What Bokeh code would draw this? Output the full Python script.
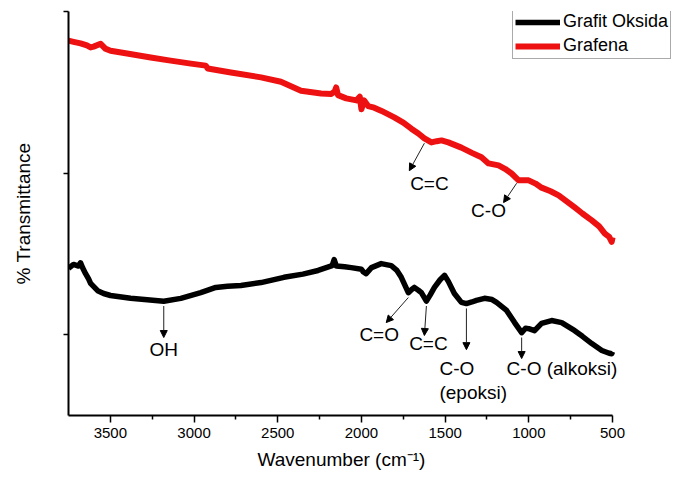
from bokeh.plotting import figure
from bokeh.models import (Range1d, FixedTicker, Legend, LegendItem, Arrow,
                          NormalHead, Label, Title)
from bokeh.embed import file_html
from bokeh.resources import INLINE
import numpy as np

# ---- data (arbitrary transmittance units) ----
grafena_wn = [3750, 3720, 3678, 3640, 3618, 3600, 3558, 3530, 3499, 3400, 3259,
              3150, 3019, 2930, 2918, 2780, 2600, 2481, 2361, 2241, 2180,
              2160, 2151, 2140, 2091, 2030, 2010, 2000, 1985, 1960, 1924,
              1880, 1804, 1750, 1702, 1660, 1624, 1582, 1550, 1522, 1481,
              1403, 1340, 1283, 1241, 1181, 1140, 1103, 1061, 1001, 960,
              924, 870, 822, 770, 726, 680, 624, 580, 546, 520, 505, 500]
grafena_t = [92.8, 92.5, 92.1, 91.6, 91.1, 91.3, 92.0, 90.8, 90.3, 89.6, 88.6,
             87.9, 87.1, 86.6, 85.9, 84.9, 83.7, 82.6, 80.4, 79.7, 79.6,
             80.2, 81.2, 79.3, 78.5, 78.0, 78.9, 75.8, 78.0, 76.6, 76.2,
             75.4, 73.8, 72.5, 71.0, 69.8, 68.6, 67.6, 67.9, 68.1, 67.6,
             66.3, 65.0, 63.9, 62.4, 61.9, 61.0, 59.9, 58.2, 58.2, 57.4,
             56.4, 55.5, 54.5, 52.9, 51.5, 50.0, 48.3, 46.8, 45.0, 44.2, 43.0, 44.1]

grafit_wn = [3750, 3720, 3690, 3678, 3665, 3648, 3630, 3618, 3576, 3540, 3499,
             3379, 3181, 3079, 2960, 2870, 2800, 2720, 2600, 2463, 2350,
             2259, 2175, 2163, 2150, 2100, 2061, 2000, 1990, 1972, 1940,
             1882, 1822, 1790, 1762, 1720, 1700, 1684, 1660, 1642, 1612,
             1590, 1564, 1530, 1504, 1481, 1445, 1403, 1373, 1340, 1313,
             1265, 1220, 1193, 1133, 1085, 1043, 1020, 1001, 966, 924,
             864, 804, 726, 680, 624, 564, 520, 505, 500]
grafit_t = [36.4, 37.4, 37.0, 37.8, 36.5, 35.1, 33.8, 32.7, 30.9, 30.2, 29.7,
            29.0, 28.3, 29.0, 30.4, 31.7, 32.0, 32.2, 32.9, 34.2, 35.0,
            35.9, 37.1, 38.6, 37.0, 36.8, 36.6, 36.2, 35.6, 35.1, 36.6,
            37.6, 37.1, 36.0, 34.2, 30.4, 31.2, 31.7, 31.0, 30.4, 28.3,
            29.8, 31.7, 33.6, 34.7, 33.2, 30.2, 28.0, 27.7, 28.1, 28.5,
            29.0, 28.7, 28.0, 26.0, 23.0, 20.5, 21.6, 21.5, 21.0, 22.8,
            23.5, 23.0, 21.0, 19.6, 17.8, 16.1, 15.4, 15.3, 15.8]

x_ticks = [3500, 3000, 2500, 2000, 1500, 1000, 500]
x_minor = [3250, 2750, 2250, 1750, 1250, 750]
y_ticks_minor = [20, 60, 100]

# annotations: (text, peak wavenumber, series, arrow end (wn, t), label (wn, t), align)
annotations = [
    ("OH", 3181, "go", (3181, 19.3), (3181, 16.3), "center"),
    ("C=O", 1720, "go", (1852, 23.0), (1894, 20.0), "center"),
    ("C=C", 1612, "go", (1624, 19.8), (1600, 17.8), "center"),
    ("C-O", 1373, "go", (1373, 16.3), (1534, 11.6), "left"),
    ("(epoksi)", None, None, None, (1534, 5.7), "left"),
    ("C-O (alkoksi)", 1043, "go", (1043, 14.1), (1133, 11.6), "left"),
    ("C=C", 1624, "gr", (1714, 60.6), (1594, 57.4), "center"),
    ("C-O", 1073, "gr", (1151, 52.7), (1241, 50.7), "center"),
]

FONT = "Liberation Sans"

p = figure(width=678, height=480, output_backend="svg", toolbar_location=None,
           x_range=Range1d(3750, 112), y_range=Range1d(0, 100),
           min_border_left=68, min_border_right=1, min_border_top=11,
           min_border_bottom=65)
p.outline_line_color = None
p.xgrid.visible = False
p.ygrid.visible = False
p.background_fill_color = "white"
p.border_fill_color = "white"

r_go = p.line(grafit_wn, grafit_t, line_color="black", line_width=5.5,
              line_join="round")
r_gr = p.line(grafena_wn, grafena_t, line_color="#ee1111", line_width=6,
              line_join="round")

# axes
xa = p.xaxis[0]
xa.bounds = (500, 3750)
xa.ticker = FixedTicker(ticks=x_ticks, minor_ticks=x_minor)
xa.major_label_text_font = FONT
xa.major_label_text_font_size = "15px"
xa.major_label_text_color = "black"
xa.major_label_standoff = 5
xa.axis_line_width = 2
xa.axis_line_color = "black"
xa.major_tick_out = 7
xa.major_tick_in = 0
xa.minor_tick_out = 4
xa.minor_tick_in = 0
xa.major_tick_line_width = 1.5
xa.minor_tick_line_width = 1.5

# x-axis title, centred under the axis bounds (not the wider frame)
xtitle = Title(text="Wavenumber (cm\u207b\u00b9)", align="left", offset=189,
               text_font=FONT, text_font_size="19px", text_font_style="normal",
               text_color="black", standoff=12)
p.add_layout(xtitle, "below")

ya = p.yaxis[0]
ya.ticker = FixedTicker(ticks=[], minor_ticks=y_ticks_minor)
ya.axis_label = "% Transmittance"
ya.axis_label_text_font = FONT
ya.axis_label_text_font_size = "19px"
ya.axis_label_text_font_style = "normal"
ya.axis_label_text_color = "black"
ya.axis_label_standoff = 30
ya.axis_line_width = 2
ya.axis_line_color = "black"
ya.minor_tick_out = 5
ya.minor_tick_in = 0
ya.minor_tick_line_width = 1.5

# annotations
series = {"go": (grafit_wn, grafit_t), "gr": (grafena_wn, grafena_t)}
for text, peak, s, end, lab, align in annotations:
    if peak is not None:
        wn, tt = series[s]
        y0 = float(np.interp(-peak, -np.array(wn), np.array(tt))) - 1.2
        p.add_layout(Arrow(x_start=peak, y_start=y0, x_end=end[0], y_end=end[1],
                           line_color="#222222", line_width=1,
                           end=NormalHead(size=7, fill_color="black",
                                          line_color="black")))
    p.add_layout(Label(x=lab[0], y=lab[1], text=text, text_font=FONT,
                       text_font_size="19px", text_color="black",
                       text_align=align, text_baseline="middle"))

legend = Legend(items=[LegendItem(label="Grafit Oksida", renderers=[r_go]),
                       LegendItem(label="Grafena", renderers=[r_gr])],
                location=(444, 356))
legend.label_text_font = FONT
legend.label_text_font_size = "18px"
legend.label_text_color = "black"
legend.glyph_width = 45
legend.glyph_height = 20
legend.label_height = 20
legend.label_standoff = 3
legend.padding = 2
legend.spacing = 3
legend.margin = 0
legend.border_line_color = "#555555"
legend.border_line_width = 1
legend.background_fill_alpha = 1
p.add_layout(legend, "center")

open("out.html", "w").write(file_html(p, INLINE))
